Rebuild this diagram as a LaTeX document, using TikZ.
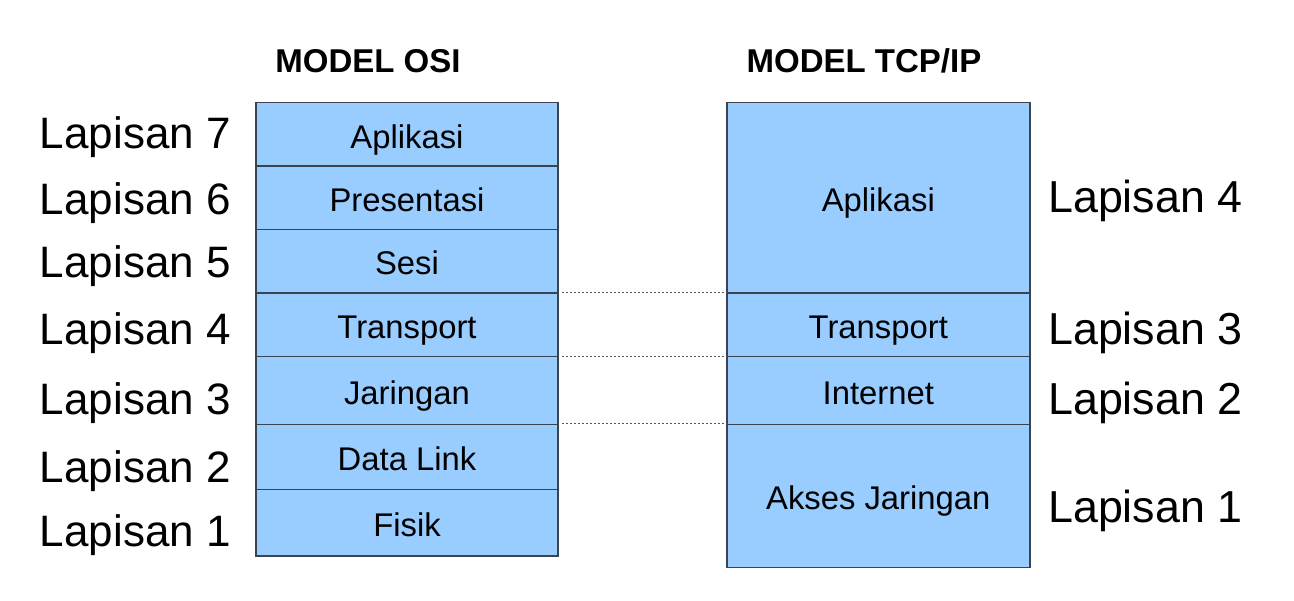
\documentclass[tikz,border=0pt]{standalone}
\usepackage{fontspec}
\setmainfont{Liberation Sans}
\definecolor{layerfill}{HTML}{99CCFF}
\definecolor{layerline}{HTML}{3A4450}
\definecolor{dotline}{HTML}{555555}
\begin{document}
\begin{tikzpicture}[x=1pt,y=-1pt,
  layer/.style={draw=layerline, fill=layerfill, line width=1.5pt, inner sep=0pt,
    font=\fontsize{32.8}{36}\selectfont, text height=27.5pt, text depth=0pt},
  osibox/.style={layer, minimum width=302pt},
  tcpbox/.style={layer, minimum width=303pt},
  lapis/.style={font=\fontsize{44}{50}\selectfont, inner sep=0pt},
  lapisr/.style={font=\fontsize{44.8}{50}\selectfont, inner sep=0pt},
  title/.style={font=\fontsize{33}{36}\selectfont\bfseries, inner sep=0pt},
  guide/.style={draw=dotline, line width=0.8pt, dash pattern=on 2pt off 2pt}]
\useasboundingbox (0,0) rectangle (1294,601);
% titles
\node[title, anchor=base] (tosi) at (368,73) {MODEL OSI};
\node[title, anchor=base] (ttcp) at (864,73) {MODEL TCP/IP};
% OSI stack
\node[osibox, minimum height=63.3pt] (o7) at (407,134.35) {Aplikasi};
\node[osibox, minimum height=63.3pt] (o6) at (407,197.65) {Presentasi};
\node[osibox, minimum height=63.7pt] (o5) at (407,261.15) {Sesi};
\node[osibox, minimum height=63.7pt] (o4) at (407,324.85) {Transport};
\node[osibox, minimum height=67.8pt] (o3) at (407,390.6) {Jaringan};
\node[osibox, minimum height=65pt] (o2) at (407,457) {Data Link};
\node[osibox, minimum height=66.5pt] (o1) at (407,522.75) {Fisik};
% TCP/IP stack
\node[tcpbox, minimum height=190.3pt] (t4) at (878.3,197.85) {Aplikasi};
\node[tcpbox, minimum height=63.7pt] (t3) at (878.3,324.85) {Transport};
\node[tcpbox, minimum height=67.8pt] (t2) at (878.3,390.6) {Internet};
\node[tcpbox, minimum height=143.2pt] (t1) at (878.3,496.1) {Akses Jaringan};
% guides
\draw[guide] ([xshift=3pt]o4.north east) -- (t3.north west);
\draw[guide] ([xshift=3pt]o3.north east) -- (t2.north west);
\draw[guide] ([xshift=3pt]o2.north east) -- (t1.north west);
% OSI layer labels
\node[lapis, anchor=base east] (l7) at (231,149) {Lapisan 7};
\node[lapis, anchor=base east] (l6) at (231,215) {Lapisan 6};
\node[lapis, anchor=base east] (l5) at (231,278) {Lapisan 5};
\node[lapis, anchor=base east] (l4) at (231,345) {Lapisan 4};
\node[lapis, anchor=base east] (l3) at (231,415) {Lapisan 3};
\node[lapis, anchor=base east] (l2) at (231,483) {Lapisan 2};
\node[lapis, anchor=base east] (l1) at (231,546) {Lapisan 1};
% TCP/IP layer labels
\node[lapisr, anchor=base west] (r4) at (1048,213) {Lapisan 4};
\node[lapisr, anchor=base west] (r3) at (1048,345) {Lapisan 3};
\node[lapisr, anchor=base west] (r2) at (1048,415) {Lapisan 2};
\node[lapisr, anchor=base west] (r1) at (1048,522) {Lapisan 1};
\end{tikzpicture}
\end{document}
